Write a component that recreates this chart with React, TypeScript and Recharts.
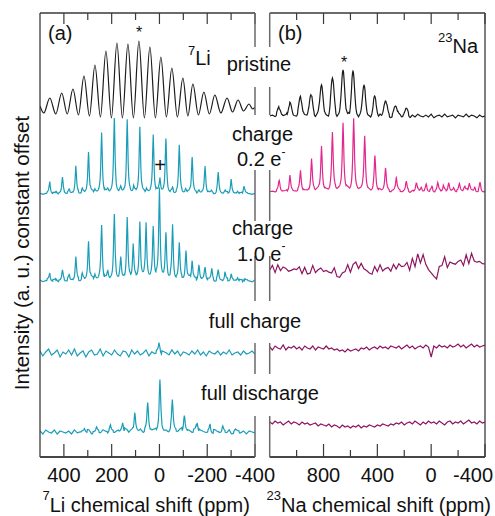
import React from 'react'
import { LineChart, Line, XAxis, YAxis } from 'recharts'

type Peak = [number, number]
type Pt = { x: number; v: number }

const FONT = '"Liberation Sans", Arial, Helvetica, sans-serif'
const BOX = '#3a3a3a'
const INNER = '#6a6a6a'
const BLACK = '#1c1c1c'
const TEAL = '#1a9db8'
const PINK = '#e2278e'
const PLUM = '#8d1560'

// axis ticks
const LI_TICKS = [400, 300, 200, 100, 0, -100, -200, -300, -400]
const LI_LABELS = [400, 200, 0, -200, -400]
const NA_TICKS = [1000, 800, 600, 400, 200, 0, -200, -400]
const NA_LABELS = [800, 400, 0, -400]

// ppm per pixel on each panel
const LI_PPM_PX = 4.19
const NA_PPM_PX = 7.41

// baseline offsets (constant offset between spectra)
const LI_OFF_PRISTINE = 342
const LI_OFF_02 = 263
const LI_OFF_10 = 176
const LI_OFF_FULL = 104
const LI_OFF_DIS = 25
const NA_OFF_PRISTINE = 341
const NA_OFF_02 = 265
const NA_OFF_10 = 187
const NA_OFF_FULL = 109
const NA_OFF_DIS = 33

// 7Li pristine: broad sidebands, peaks and troughs [ppm, intensity]
const LI_PRISTINE: Peak[] = [
  [500, 9], [484, 2], [459, 17], [434, 1], [409, 22], [386, 1], [362, 26], [339, 0],
  [316, 39], [293, -1], [270, 50], [247, -2], [224, 64], [201, -3], [178, 72], [155, -3],
  [132, 71], [109, -3], [86, 74], [63, -3], [40, 68], [17, -3], [-6, 58], [-29, -2],
  [-52, 47], [-75, -2], [-98, 37], [-119, -1], [-140, 31], [-163, 0], [-186, 23], [-209, 1],
  [-232, 20], [-257, 2], [-283, 17], [-306, 3], [-329, 15], [-352, 4], [-375, 11], [-390, 6],
  [-400, 8],
]

// 7Li charge 0.2 e-
const LI_02_PEAKS: Peak[] = [
  [459, 11], [406, 16], [350, 27], [297, 42], [242, 62], [189, 74], [135, 75], [82, 67],
  [26, 59], [-2, 15], [-27, 54], [-83, 48], [-137, 37], [-191, 28], [-246, 21], [-300, 14],
  [-354, 9],
  [431, 3], [378, 3], [323, 4], [270, 4], [216, 4], [162, 5], [108, 5], [54, 5],
  [-55, 4], [-110, 4], [-164, 4], [-218, 3], [-273, 3], [-327, 3],
]

// 7Li charge 1.0 e-
const LI_10_PEAKS: Peak[] = [
  [459, 6], [406, 10], [350, 23], [297, 40], [242, 57], [189, 64], [135, 64], [82, 58],
  [26, 53], [-27, 45], [-83, 36], [-137, 20], [-191, 14], [-246, 10], [-300, 6], [-354, 3],
  [431, 3], [378, 4], [323, 6], [270, 6], [216, 9], [162, 21], [110, 33], [56, 58],
  [0, 92], [-55, 53], [-111, 29], [-165, 17], [-219, 12], [-274, 7], [-327, 4],
]

const LI_FULL_PEAKS: Peak[] = [[0, 11]]

const LI_DIS_PEAKS: Peak[] = [
  [312, 3], [263, 4], [207, 8], [154, 11], [103, 20], [49, 30], [-2, 50], [-54, 31],
  [-104, 18], [-158, 11], [-212, 7], [-265, 5], [-318, 3],
]

// 23Na pristine
const NA_PRISTINE_PEAKS: Peak[] = [
  [1129, 8], [1050, 13], [971, 18], [894, 23], [815, 31], [734, 38], [655, 46], [581, 44],
  [499, 29], [420, 19], [339, 16], [265, 10], [185, 7],
]

// 23Na charge 0.2 e-
const NA_02_PEAKS: Peak[] = [
  [1129, 12], [1050, 16], [971, 20], [889, 32], [815, 45], [734, 59], [655, 68], [576, 72],
  [494, 54], [418, 35], [339, 24], [259, 14], [185, 10], [111, 9], [37, 7], [-49, 9],
  [-130, 9], [-210, 8], [-284, 9], [-363, 9],
  [74, 4], [-6, 4], [-90, 5], [-170, 4], [-247, 5], [-324, 4],
]

// baseline noise, 500 .. -400 ppm
const LI_NOISE_A = [
  1, -1, 0, 2, -1, 1, -2, 0, 1, -1, 2, 0, -1, 1, -2, 1, 0, -1, 2, -1,
  0, 1, -2, 1, -1, 0, 2, -1, 1, 0, -2, 1, -1, 2, 0, -1, 1, -2, 0, 1,
  -1, 2, -1, 0, 1, -1, 2, -2, 0, 1, -1, 0, 2, -1, 1, -2, 0, 1, -1, 1,
  0, -2, 1, 0, -1, 2, -1, 1, 0, -1, 1, -2, 1, 0, -1, 1,
]
const LI_NOISE_FULL = [
  2, -3, 1, 4, -2, 0, 3, -4, 1, -1, 3, -2, 4, -3, 0, 2, -4, 1, 3, -2,
  -1, 4, -3, 2, 0, -2, 3, -1, -3, 2, 1, -4, 3, -1, 2, -2, 0, 3, -3, 1,
  -1, 2, -3, 1, 0, -2, 3, -1, 2, -3, 1, 0, -2, 2, -1, 3, -2, 1, -3, 2,
  0, -1, 2, -2, 1, -1, 3, -2, 0, 1, -2, 2, -1, 0, 2, -1,
]
const LI_NOISE_DIS = [
  1, -2, 2, 0, -1, 2, -2, 1, 0, -1, 1, -2, 2, -1, 0, 1, -1, 2, -2, 0,
  1, -1, 2, 0, -2, 1, -1, 1, 0, -2, 2, -1, 1, -1, 0, 2, -2, 1, -1, 0,
  1, -1, 2, -1, 0, -2, 1, 1, -1, 2, -2, 0, 1, -1, 2, -2, 1, 0, -1, 1,
  -2, 2, 0, -1, 1, -1, 2, -2, 0, 1, -1, 1, -2, 1, 0, -1,
]

// baseline noise, 1200 .. -400 ppm
const NA_NOISE_A = [
  0, 1, -1, 2, -1, 0, 1, -2, 1, 0, -1, 2, -1, 1, 0, -2, 1, -1, 2, 0,
  -1, 1, -2, 0, 2, -1, 1, 0, -1, 2, -2, 1, 0, -1, 1, 2, -1, 0, -2, 1,
  -1, 2, 0, -1, 1, -2, 1, 0, 2, -1, 0, 1, -2, 1, -1, 2, 0, -1, 1, -1,
  2, -2, 0, 1, -1, 2, -1, 0, 1, -2, 1, 0, -1, 2, -1, 1, 0, -2, 1, -1,
  0,
]
const NA_10 = [
  0, 3, -1, 2, 1, 3, 0, 2, -2, 1, 2, 0, -2, 1, -4, 0, 3, -1, -3, 2,
  0, -2, 1, -3, -1, -5, -9, -3, 0, 2, 1, 4, 8, 3, 5, -2, 1, -3, -1, 2,
  0, 2, -1, 3, 1, 2, 4, 1, 3, 5, 4, 6, 3, 10, 5, 13, 7, 17, 4, 2,
  -6, -3, -9, 2, 6, 10, 4, 8, 5, 9, 7, 10, 6, 12, 8, 15, 9, 11, 7, 8,
  6,
]
const NA_FULL = [
  1, -2, 2, 0, -1, 3, -2, 1, 0, 2, -1, 1, -2, 2, 0, -1, 2, -2, 1, 0,
  -1, 2, -1, 0, -2, -1, -3, -2, -4, -1, -3, -2, -1, -3, 0, -1, 1, -2, 0, 1,
  -1, 2, 0, 1, -1, 2, 1, 0, 2, -1, 1, 3, 0, 2, -1, 1, 2, 0, 3, 1,
  -9, 2, 0, 3, 1, 2, 0, 3, 1, 2, 4, 1, 3, 0, 2, 4, 1, 3, 1, 2,
  3,
]
const NA_DIS = [
  2, 0, 3, 1, 2, -1, 1, 3, 0, 2, 1, -1, 2, 0, 1, -1, 0, 1, -2, 0,
  -1, -2, 0, -3, -1, -2, -4, -1, -3, -2, -4, -2, -3, -1, -4, -2, -3, -1, -2, -3,
  -1, -2, 0, -1, -2, 0, -1, 1, 0, 2, -1, 1, 2, 0, 3, 1, -1, 2, 0, 3,
  1, 2, 0, 3, 1, -1, 2, 3, 0, 2, 1, 3, 0, 2, 4, 1, 2, 0, 3, 1,
  2,
]

function buildTrace(
  offset: number,
  noise: number[],
  noiseScale: number,
  peaks: Peak[],
  from: number,
  to: number,
  ppmPx: number,
  widthPx: number,
  gauss: boolean
): Pt[] {
  const step = (from - to) / (noise.length - 1)
  const xs = noise.map((_, i) => from - i * step)
  peaks.forEach(([p]) => {
    for (let k = -8; k <= 8; k++) xs.push(p + k * 0.5 * ppmPx)
  })
  return xs
    .filter((x) => x <= from && x >= to)
    .sort((a, b) => b - a)
    .map((x) => {
      const i = Math.round((from - x) / step)
      let v = offset + noise[i] * noiseScale
      peaks.forEach(([p, h]) => {
        const d = (x - p) / (widthPx * ppmPx)
        v += gauss ? h * Math.exp((-d * d) / 2) : h / (1 + d * d)
      })
      return { x, v }
    })
}

const liPristine: Pt[] = LI_PRISTINE.map(([x, h]) => ({ x, v: LI_OFF_PRISTINE + h }))
const li02 = buildTrace(LI_OFF_02, LI_NOISE_A, 0.6, LI_02_PEAKS, 500, -400, LI_PPM_PX, 0.8, false)
const li10 = buildTrace(LI_OFF_10, LI_NOISE_A, 0.9, LI_10_PEAKS, 500, -400, LI_PPM_PX, 0.8, false)
const liFull = buildTrace(LI_OFF_FULL, LI_NOISE_FULL, 1, LI_FULL_PEAKS, 500, -400, LI_PPM_PX, 0.9, false)
const liDis = buildTrace(LI_OFF_DIS, LI_NOISE_DIS, 1, LI_DIS_PEAKS, 500, -400, LI_PPM_PX, 0.9, false)

// slow drift of the 1.0 e- sodium trace plus its fast noise
const na10Noise = NA_10.map((v, i) => v + 1.6 * NA_NOISE_A[i])

const naPristine = buildTrace(NA_OFF_PRISTINE, NA_NOISE_A, 0.9, NA_PRISTINE_PEAKS, 1200, -400, NA_PPM_PX, 1.6, true)
const na02 = buildTrace(NA_OFF_02, NA_NOISE_A, 0.6, NA_02_PEAKS, 1200, -400, NA_PPM_PX, 0.9, false)
const na10 = buildTrace(NA_OFF_10, na10Noise, 1, [], 1200, -400, NA_PPM_PX, 1, false)
const naFull = buildTrace(NA_OFF_FULL, NA_FULL, 1, [], 1200, -400, NA_PPM_PX, 1, false)
const naDis = buildTrace(NA_OFF_DIS, NA_DIS, 1, [], 1200, -400, NA_PPM_PX, 1, false)

const makeTick = (labels: number[]) => (props: any) => {
  const { x, payload } = props
  const major = labels.includes(payload.value)
  return (
    <g>
      <line x1={x} y1={457} x2={x} y2={457 - (major ? 13 : 7)} stroke={BOX} strokeWidth={1.2} />
      <line x1={x} y1={13} x2={x} y2={13 + (major ? 11 : 7)} stroke={BOX} strokeWidth={1.2} />
      {major && (
        <text x={Math.min(x, 473)} y={482} textAnchor="middle" fontSize={20} fontFamily={FONT} fill="#111">
          {payload.value}
        </text>
      )}
    </g>
  )
}

function Trace({ data, color, curve }: { data: Pt[]; color: string; curve?: 'monotone' | 'linear' }) {
  return (
    <Line
      data={data}
      dataKey="v"
      type={curve ?? 'linear'}
      stroke={color}
      strokeWidth={1.2}
      dot={false}
      activeDot={false}
      isAnimationActive={false}
    />
  )
}

const innerSegments = [
  [13, 47], [87, 115], [170, 221], [256, 301], [343, 374], [416, 457],
]

export default function App() {
  const t = { fontFamily: FONT, fill: '#111' }
  return (
    <div style={{ position: 'absolute', left: 0, top: 0, width: 495, height: 516, background: '#fff' }}>
      <div style={{ position: 'absolute', left: 0, top: 0 }}>
        <LineChart width={495} height={516} margin={{ top: 13, right: 240, bottom: 58, left: 40 }}>
          <XAxis
            dataKey="x"
            type="number"
            domain={[-400, 500]}
            reversed
            allowDataOverflow
            ticks={LI_TICKS}
            interval={0}
            height={1}
            tickSize={0}
            tickMargin={0}
            tickLine={false}
            axisLine={{ stroke: BOX, strokeWidth: 1.3 }}
            tick={makeTick(LI_LABELS)}
          />
          <YAxis hide type="number" domain={[0, 444]} allowDataOverflow />
          <Trace data={liPristine} color={BLACK} curve="monotone" />
          <Trace data={li02} color={TEAL} />
          <Trace data={li10} color={TEAL} />
          <Trace data={liFull} color={TEAL} />
          <Trace data={liDis} color={TEAL} />
        </LineChart>
      </div>
      <div style={{ position: 'absolute', left: 0, top: 0 }}>
        <LineChart width={495} height={516} margin={{ top: 13, right: 10, bottom: 58, left: 269.7 }}>
          <XAxis
            dataKey="x"
            type="number"
            domain={[-400, 1200]}
            reversed
            allowDataOverflow
            ticks={NA_TICKS}
            interval={0}
            height={1}
            tickSize={0}
            tickMargin={0}
            tickLine={false}
            axisLine={{ stroke: BOX, strokeWidth: 1.3 }}
            tick={makeTick(NA_LABELS)}
          />
          <YAxis hide type="number" domain={[0, 444]} allowDataOverflow />
          <Trace data={naPristine} color={BLACK} />
          <Trace data={na02} color={PINK} />
          <Trace data={na10} color={PLUM} />
          <Trace data={naFull} color={PLUM} />
          <Trace data={naDis} color={PLUM} />
        </LineChart>
      </div>
      <svg width={495} height={516} style={{ position: 'absolute', left: 0, top: 0 }}>
        <line x1={40} y1={13} x2={40} y2={457} stroke={BOX} strokeWidth={1.3} />
        <line x1={485} y1={13} x2={485} y2={457} stroke={BOX} strokeWidth={1.3} />
        <line x1={40} y1={13} x2={255} y2={13} stroke={BOX} strokeWidth={1.3} />
        <line x1={269.7} y1={13} x2={485} y2={13} stroke={BOX} strokeWidth={1.3} />
        <line x1={40} y1={457} x2={255} y2={457} stroke={BOX} strokeWidth={1.3} />
        <line x1={269.7} y1={457} x2={485} y2={457} stroke={BOX} strokeWidth={1.3} />
        {innerSegments.map(([a, b], i) => (
          <g key={i}>
            <line x1={255} y1={a} x2={255} y2={b} stroke={INNER} strokeWidth={1.5} />
            <line x1={269.7} y1={a} x2={269.7} y2={b} stroke={INNER} strokeWidth={1.5} />
          </g>
        ))}

        <text x={48} y={40} fontSize={20} {...t}>(a)</text>
        <text x={188} y={65} fontSize={20} {...t}>
          <tspan fontSize={13} dy={-10}>7</tspan>
          <tspan dy={10}>Li</tspan>
        </text>
        <text x={278} y={40} fontSize={20} {...t}>(b)</text>
        <text x={438} y={53} fontSize={20} {...t}>
          <tspan fontSize={13} dy={-11}>23</tspan>
          <tspan dy={11}>Na</tspan>
        </text>
        <text x={139} y={38} fontSize={16} textAnchor="middle" {...t}>*</text>
        <text x={344} y={68} fontSize={16} textAnchor="middle" {...t}>*</text>
        <text x={160} y={172} fontSize={20} textAnchor="middle" {...t}>+</text>

        <text x={259} y={71} fontSize={20} textAnchor="middle" {...t}>pristine</text>
        <text x={262.5} y={141} fontSize={20} textAnchor="middle" {...t}>charge</text>
        <text x={237} y={166} fontSize={20} {...t}>
          0.2 e<tspan fontSize={12} dy={-10}>-</tspan>
        </text>
        <text x={262.5} y={235} fontSize={20} textAnchor="middle" {...t}>charge</text>
        <text x={237} y={261} fontSize={20} {...t}>
          1.0 e<tspan fontSize={12} dy={-11}>-</tspan>
        </text>
        <text x={255} y={328} fontSize={20} textAnchor="middle" {...t}>full charge</text>
        <text x={260} y={400} fontSize={20} textAnchor="middle" {...t}>full discharge</text>

        <text x={42.5} y={512} fontSize={20} {...t}>
          <tspan fontSize={13} dy={-12}>7</tspan>
          <tspan dy={12}>Li chemical shift (ppm)</tspan>
        </text>
        <text x={266.5} y={512} fontSize={20} {...t}>
          <tspan fontSize={13} dy={-12}>23</tspan>
          <tspan dy={12}>Na chemical shift (ppm)</tspan>
        </text>
        <text
          x={29}
          y={253}
          fontSize={20.5}
          textAnchor="middle"
          transform="rotate(-90 29 253)"
          {...t}
        >
          Intensity (a. u.) constant offset
        </text>
      </svg>
    </div>
  )
}
